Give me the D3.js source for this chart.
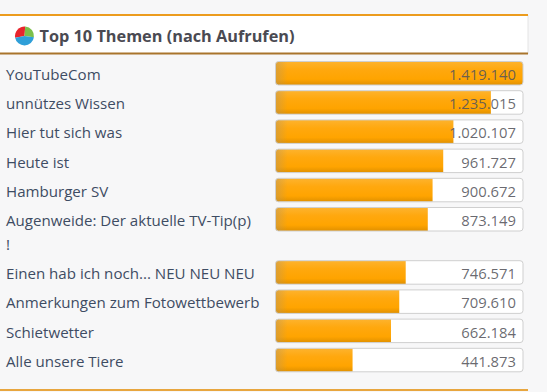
<!DOCTYPE html>
<html>
<head>
<meta charset="utf-8">
<script src="https://cdn.jsdelivr.net/npm/d3@7"></script>
<style>
  html, body { margin: 0; padding: 0; background: #f7f7f8; overflow: hidden; }
  text { font-family: "Open Sans", "Noto Sans", sans-serif; }
  .label { font-size: 15.1px; fill: #3e4c63; }
  .value { font-size: 14.8px; fill: #55555c; fill-opacity: .88; text-anchor: end; }
  .title { font-size: 16.3px; font-weight: 700; fill: #4a4a52; }
</style>
</head>
<body>
<svg id="chart" width="547" height="392"></svg>
<script>
const titleText = "Top 10 Themen (nach Aufrufen)";
const categories = [
  ["YouTubeCom"],
  ["unnützes Wissen"],
  ["Hier tut sich was"],
  ["Heute ist"],
  ["Hamburger SV"],
  ["Augenweide: Der aktuelle TV-Tip(p)", "!"],
  ["Einen hab ich noch... NEU NEU NEU"],
  ["Anmerkungen zum Fotowettbewerb"],
  ["Schietwetter"],
  ["Alle unsere Tiere"]
];
const views = [1419140, 1235015, 1020107, 961727, 900672, 873149, 746571, 709610, 662184, 441873];
const iconShares = [29, 26, 45];
const iconColors = ["#e8242c", "#7cbf4a", "#2f9fd8"];

const panelRight = 528;
const trackLeft = 275.5, trackRight = 523;
const firstRow = 61.5, rowStep = 29.2, barHeight = 23.5, extraLine = 24;

const svg = d3.select("#chart");
const defs = svg.append("defs");

var barGrad = defs.append("linearGradient")
  .attr("id", "barGrad").attr("x1", 0).attr("x2", 0).attr("y1", 0).attr("y2", 1);
barGrad.selectAll("stop")
  .data([[0, "#fdb32e"], [0.35, "#ffa80e"], [0.75, "#ffa400"], [1, "#e09000"]])
  .enter().append("stop")
  .attr("offset", d => d[0])
  .attr("stop-color", d => d[1]);

var edgeGrad = defs.append("linearGradient")
  .attr("id", "edgeGrad").attr("x1", 0).attr("x2", 1).attr("y1", 0).attr("y2", 0);
edgeGrad.append("stop").attr("offset", 0).attr("stop-color", "#b8965c").attr("stop-opacity", 0.5);
edgeGrad.append("stop").attr("offset", 1).attr("stop-color", "#b8965c").attr("stop-opacity", 0);

// rows are stacked, a label with two lines pushes the next ones down
var rowTops = [];
categories.reduce((y, c) => {
  rowTops.push(y);
  return y + rowStep + (c.length - 1) * extraLine;
}, firstRow);

const x = d3.scaleLinear()
  .domain([0, d3.max(views)])
  .range([0, trackRight - trackLeft]);

// panel header
svg.append("rect").attr("x", 0).attr("y", 15).attr("width", panelRight).attr("height", 39).attr("fill", "#fff");
svg.append("line").attr("x1", panelRight).attr("x2", panelRight).attr("y1", 15).attr("y2", 54).attr("stroke", "#e4e4e4");
svg.append("line").attr("x1", 0).attr("x2", panelRight).attr("y1", 15).attr("y2", 15)
  .attr("stroke", "#ec9c1e").attr("stroke-width", 2);
svg.append("line").attr("x1", 0).attr("x2", panelRight).attr("y1", 53.5).attr("y2", 53.5)
  .attr("stroke", "#a9752c").attr("stroke-width", 2);
svg.append("line").attr("x1", 0).attr("x2", panelRight).attr("y1", 390).attr("y2", 390)
  .attr("stroke", "#e8a63f").attr("stroke-width", 2);

// little pie icon
var icon = svg.append("g").attr("transform", "translate(24.5,36)");
var iconArc = d3.arc().innerRadius(0).outerRadius(9.5);
icon.selectAll("path")
  .data(d3.pie().sort(null).startAngle(-Math.PI * 0.556).endAngle(Math.PI * 1.444)(iconShares))
  .enter().append("path")
  .attr("d", iconArc)
  .attr("fill", (d, i) => iconColors[i]);

svg.append("text").attr("class", "title").attr("x", 39.5).attr("y", 41.5).text(titleText);

var rows = svg.selectAll(".row")
  .data(views.map((v, i) => ({ value: v, lines: categories[i], top: rowTops[i], i: i })))
  .enter().append("g")
  .attr("class", "row")
  .attr("transform", d => `translate(0,${d.top})`);

rows.append("clipPath")
  .attr("id", d => "clip" + d.i)
  .append("rect")
  .attr("x", trackLeft).attr("width", trackRight - trackLeft)
  .attr("height", barHeight).attr("rx", 3);

rows.append("rect")
  .attr("x", trackLeft).attr("width", trackRight - trackLeft)
  .attr("height", barHeight).attr("rx", 3)
  .attr("fill", "#fff");

var fills = rows.append("g").attr("clip-path", d => `url(#clip${d.i})`);
fills.append("rect")
  .attr("x", trackLeft).attr("width", d => x(d.value))
  .attr("height", barHeight)
  .attr("fill", "url(#barGrad)");
fills.append("rect")
  .attr("x", trackLeft).attr("width", 12)
  .attr("height", barHeight)
  .attr("fill", "url(#edgeGrad)");

rows.append("rect")
  .attr("x", trackLeft).attr("width", trackRight - trackLeft)
  .attr("height", barHeight).attr("rx", 3)
  .attr("fill", "none").attr("stroke", "#cfcfcf");

rows.append("text")
  .attr("class", "value")
  .attr("x", trackRight - 7)
  .attr("y", 18.5)
  .text(d => d3.format(",")(d.value).replace(/,/g, "."));

rows.selectAll(".label")
  .data(d => d.lines)
  .enter().append("text")
  .attr("class", "label")
  .attr("x", 6)
  .attr("y", (d, i) => 18.5 + i * 24)
  .text(d => d);
</script>
</body>
</html>
